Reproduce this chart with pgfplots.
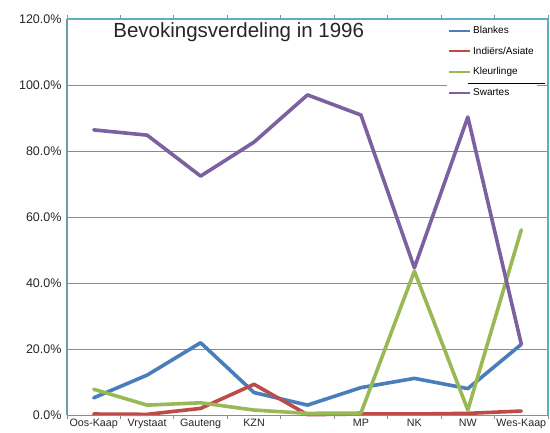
\documentclass[border=0pt]{standalone}
\usepackage{pgfplots}
\pgfplotsset{compat=1.18}
\usepackage{fontspec}
\setmainfont{Liberation Sans}

\definecolor{cBlankes}{HTML}{4A7EBB}
\definecolor{cIndiers}{HTML}{BE4B48}
\definecolor{cKleur}{HTML}{98B954}
\definecolor{cSwart}{HTML}{7D60A0}
\definecolor{frameC}{HTML}{5AAEC6}
\definecolor{frameL}{HTML}{6E9CA6}
\definecolor{gridC}{HTML}{8C8C8C}

\begin{document}
\begin{tikzpicture}
\begin{axis}[
    name=ax,
    scale only axis,
    width=481bp, height=396bp,
    xmin=-0.5, xmax=8.5,
    ymin=0, ymax=120,
    clip=false,
    axis line style={draw=none},
    xtick={0,...,8},
    xticklabels={Oos-Kaap,Vrystaat,Gauteng,KZN,,MP,NK,NW,Wes-Kaap},
    minor xtick={-0.5,0.5,...,8.5},
    major tick length=0pt,
    minor tick length=4bp,
    tick align=outside,
    minor tick style={gridC, line width=0.8bp},
    ytick={0,20,...,120},
    yticklabel={\pgfmathprintnumber[fixed,fixed zerofill,precision=1]{\tick}\%},
    /pgf/number format/assume math mode=true,
    ymajorgrids=true,
    grid style={gridC, line width=0.8bp},
    tick label style={text=black!85},
    yticklabel style={font=\fontsize{12.5bp}{14bp}\selectfont, xshift=-2bp},
    xticklabel style={font=\fontsize{10.7bp}{12bp}\selectfont, yshift=-1bp},
    legend style={at={(rel axis cs:0.79,0.99)}, anchor=north west,
        draw=none, fill=white, font=\fontsize{10bp}{12bp}\selectfont,
        row sep=8bp, inner xsep=1bp, inner ysep=1bp},
    legend cell align=left,
    legend image code/.code={\draw[#1, line width=2bp, line cap=butt] (0bp,0bp) -- (21bp,0bp);},
    every axis plot/.append style={line width=3.6bp, line join=round, line cap=round},
]
\addplot[cBlankes] coordinates {
    (0,5.2)(1,12.1)(2,21.9)(3,6.8)(4,3.0)(5,8.3)(6,11.1)(7,8.0)(8,21.4)};
\addplot[cIndiers] coordinates {
    (0,0.3)(1,0.2)(2,2.0)(3,9.3)(4,0.1)(5,0.3)(6,0.3)(7,0.5)(8,1.2)};
\addplot[cKleur] coordinates {
    (0,7.8)(1,3.0)(2,3.7)(3,1.5)(4,0.5)(5,0.6)(6,43.6)(7,1.5)(8,56.1)};
\addplot[cSwart] coordinates {
    (0,86.4)(1,84.8)(2,72.4)(3,82.7)(4,97.0)(5,90.9)(6,44.6)(7,90.3)(8,21.5)};
\legend{Blankes,Indiërs/Asiate,Kleurlinge,Swartes}

% frame: cyan top/right, grey-teal left, grey bottom
\draw[gridC, line width=1bp] (rel axis cs:0,0) -- (rel axis cs:1,0);
\draw[frameL, line width=2bp] (rel axis cs:0,0) -- (rel axis cs:0,1);
\draw[frameC, line width=2bp] (rel axis cs:0,1) -- (rel axis cs:1,1) -- (rel axis cs:1,0);

\node[anchor=center, text=black!85, font=\fontsize{20.5bp}{24bp}\selectfont]
    at (rel axis cs:0.357,0.967) {Bevokingsverdeling in 1996};

\coordinate (bl1) at (axis cs:7.0,100.5);
\coordinate (bl2) at (axis cs:8.45,100.5);
\end{axis}
\draw[black, line width=0.8bp] (bl1) -- (bl2);
\pgfresetboundingbox
\path (ax.south west) +(-67bp,-17bp) (ax.north east) +(2bp,19bp);
\end{tikzpicture}
\end{document}
